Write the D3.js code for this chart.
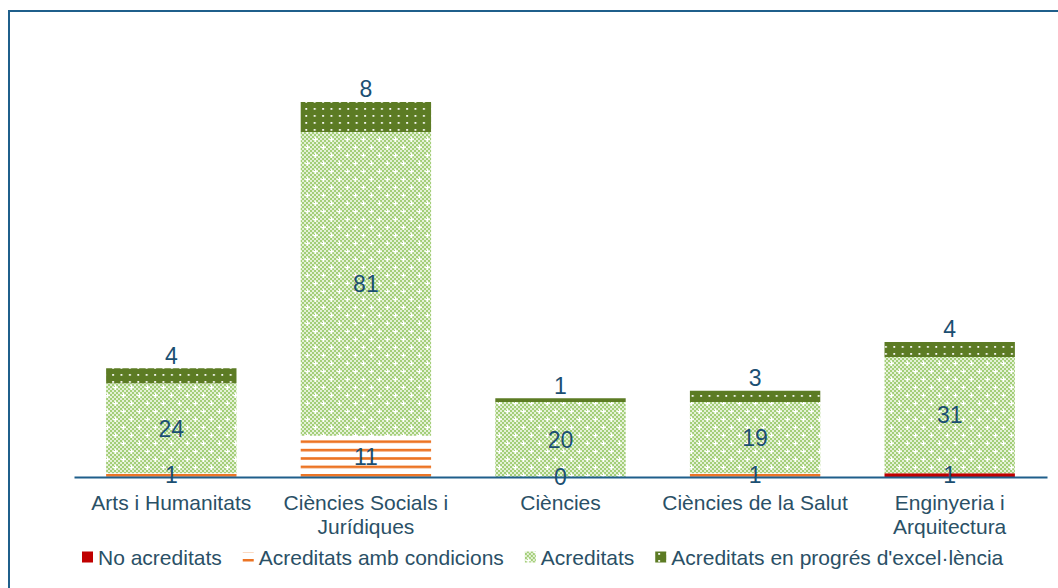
<!DOCTYPE html>
<html>
<head>
<meta charset="utf-8">
<script src="https://cdn.jsdelivr.net/npm/d3@7"></script>
<style>
  body { margin: 0; background: #fff; }
  svg { display: block; font-family: Arial, "Liberation Sans", sans-serif; }
</style>
</head>
<body>
<div id="chart"></div>
<script>
// categories (\n marks where the label wraps)
let categories = [
  "Arts i Humanitats",
  "Ciències Socials i\nJurídiques",
  "Ciències",
  "Ciències de la Salut",
  "Enginyeria i\nArquitectura"
];
// null = no label / no value in the sheet
let noAcreditats = [null, null, null, null, 1];
let ambCondicions = [1, 11, 0, 1, null];
let acreditats = [24, 81, 20, 19, 31];
let excelencia = [4, 8, 1, 3, 4];

let seriesNames = [
  "No acreditats",
  "Acreditats amb condicions",
  "Acreditats",
  "Acreditats en progrés d'excel·lència"
];

let w = 1058;
let h = 588;

let svg = d3
  .select("#chart")
  .append("svg")
  .attr("width", w)
  .attr("height", h);

let defs = svg.append("defs");

// orange horizontal lines
let pOrange = defs
  .append("pattern")
  .attr("id", "pOrange")
  .attr("patternUnits", "userSpaceOnUse")
  .attr("width", 8)
  .attr("height", 8.4)
  .attr("y", 474);
pOrange.append("rect").attr("width", 8).attr("height", 8.4).attr("fill", "#fff");
pOrange.append("rect").attr("width", 8).attr("height", 2.6).attr("fill", "#ec7424");

// light green checker with white dots
let pGreen = defs
  .append("pattern")
  .attr("id", "pGreen")
  .attr("patternUnits", "userSpaceOnUse")
  .attr("width", 16)
  .attr("height", 16);
pGreen.append("rect").attr("width", 16).attr("height", 16).attr("fill", "#e4f1d6");
for (let i = 0; i < 8; i++) {
  for (let j = 0; j < 8; j++) {
    if ((i + j) % 2 == 0) {
      pGreen
        .append("rect")
        .attr("x", i * 2)
        .attr("y", j * 2)
        .attr("width", 2)
        .attr("height", 2)
        .attr("fill", "#a3ce78");
    }
  }
}
[[3, 3], [11, 11]].forEach(function(p) {
  pGreen.append("rect").attr("x", p[0] - 2).attr("y", p[1]).attr("width", 5).attr("height", 1.2).attr("fill", "#fff");
  pGreen.append("rect").attr("x", p[0]).attr("y", p[1] - 2).attr("width", 1.2).attr("height", 5).attr("fill", "#fff");
});

// olive with white dots
let pOlive = defs
  .append("pattern")
  .attr("id", "pOlive")
  .attr("patternUnits", "userSpaceOnUse")
  .attr("width", 8.4)
  .attr("height", 7);
pOlive.append("rect").attr("width", 8.4).attr("height", 7).attr("fill", "#5c7b24");
pOlive.append("rect").attr("x", 3).attr("y", 3).attr("width", 1.8).attr("height", 1.8).attr("fill", "#fff");

let fills = ["#c00000", "url(#pOrange)", "url(#pGreen)", "url(#pOlive)"];

// frame (right and bottom edges fall off the page)
svg
  .append("rect")
  .attr("x", 9)
  .attr("y", 11)
  .attr("width", 1200)
  .attr("height", 700)
  .attr("fill", "none")
  .attr("stroke", "#1f5f8b")
  .attr("stroke-width", 2);

let x = d3
  .scaleBand()
  .domain(categories)
  .range([74, 1047])
  .paddingInner(0.33)
  .paddingOuter(0.165);

let y = d3
  .scaleLinear()
  .domain([0, 120])
  .range([477, 27]);

let table = categories.map(function(c, i) {
  return {
    cat: c,
    s0: noAcreditats[i] || 0,
    s1: ambCondicions[i] || 0,
    s2: acreditats[i] || 0,
    s3: excelencia[i] || 0,
    raw: [noAcreditats[i], ambCondicions[i], acreditats[i], excelencia[i]]
  };
});

let stack = d3.stack().keys(["s0", "s1", "s2", "s3"]);
let layers = stack(table);

let barG = svg.append("g");
layers.forEach(function(layer, k) {
  barG
    .append("g")
    .selectAll("rect")
    .data(layer)
    .enter()
    .append("rect")
    .attr("x", function(d) {
      return x(d.data.cat);
    })
    .attr("y", function(d) {
      return y(d[1]);
    })
    .attr("width", x.bandwidth())
    .attr("height", function(d) {
      return y(d[0]) - y(d[1]);
    })
    .attr("fill", fills[k]);
});

// category axis
let xAxis = d3.axisBottom(x).tickSize(0).tickFormat("");
let axisG = svg
  .append("g")
  .attr("transform", "translate(0," + y(0) + ")")
  .call(xAxis);
axisG.select(".domain").attr("stroke", "#1f5f8b").attr("stroke-width", 2);

let catText = svg
  .append("g")
  .selectAll("text")
  .data(categories)
  .enter()
  .append("text")
  .attr("x", function(d) {
    return x(d) + x.bandwidth() / 2;
  })
  .attr("y", 510)
  .attr("text-anchor", "middle")
  .attr("font-size", 21)
  .attr("fill", "#2a5066");
catText
  .selectAll("tspan")
  .data(function(d) {
    return d.split("\n");
  })
  .enter()
  .append("tspan")
  .attr("x", function() {
    let p = d3.select(this.parentNode).datum();
    return x(p) + x.bandwidth() / 2;
  })
  .attr("dy", function(d, i) {
    return i == 0 ? 0 : 24;
  })
  .text(function(d) {
    return d;
  });

// data labels
let labelG = svg.append("g");
layers.forEach(function(layer, k) {
  layer.forEach(function(d, i) {
    let v = d.data.raw[k];
    if (v === null) return;
    let cy = k == 3 ? y(d[1]) - 13 : (y(d[0]) + y(d[1])) / 2;
    labelG
      .append("text")
      .attr("x", x(d.data.cat) + x.bandwidth() / 2)
      .attr("y", cy)
      .attr("dy", "0.36em")
      .attr("text-anchor", "middle")
      .attr("font-size", 23)
      .attr("fill", "#1b4f72")
      .text(v);
  });
});

// legend
let legend = svg.append("g").attr("transform", "translate(82,557)");
let lx = 0;
seriesNames.forEach(function(name, k) {
  let item = legend.append("g").attr("transform", "translate(" + lx + ",0)");
  if (k == 1) {
    item.append("rect").attr("x", 0).attr("y", -5).attr("width", 11).attr("height", 1).attr("fill", "#fbd9c0");
    item.append("rect").attr("x", 0).attr("y", 2).attr("width", 11).attr("height", 2.5).attr("fill", "#ec7424");
  } else {
    item
      .append("rect")
      .attr("x", 0)
      .attr("y", -5.5)
      .attr("width", 11)
      .attr("height", 11)
      .attr("fill", fills[k]);
  }
  let t = item
    .append("text")
    .attr("x", 16)
    .attr("y", 0)
    .attr("dy", "0.36em")
    .attr("font-size", 21)
    .attr("fill", "#2a5066")
    .text(name);
  lx += 16 + t.node().getComputedTextLength() + 21;
});
</script>
</body>
</html>
